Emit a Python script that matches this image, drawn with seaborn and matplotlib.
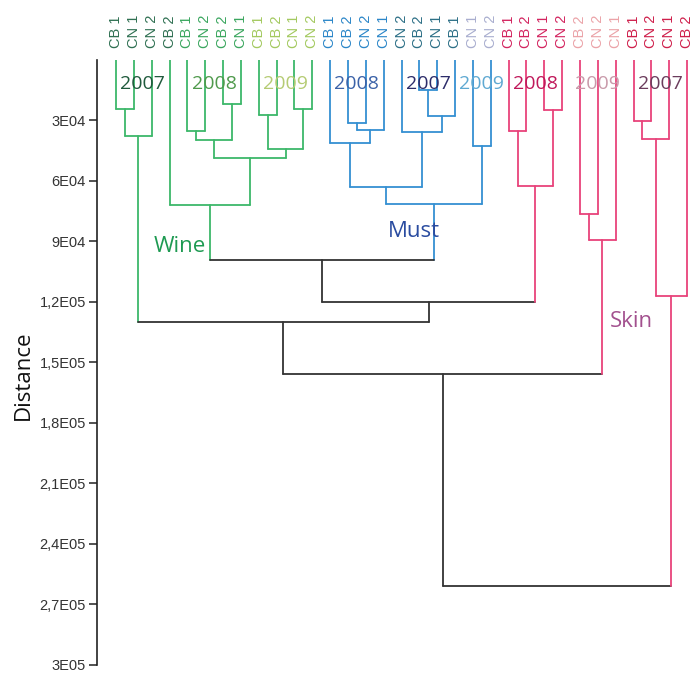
import numpy as np
import pandas as pd
import matplotlib
matplotlib.use("Agg")
import matplotlib.pyplot as plt
import seaborn as sns

# leaves, left to right
leaf_labels = ["CB 1", "CN 1", "CN 2", "CB 2",
               "CB 1", "CN 2", "CB 2", "CN 1",
               "CB 1", "CB 2", "CN 1", "CN 2",
               "CB 1", "CB 2", "CN 2", "CN 1",
               "CN 2", "CB 2", "CN 1", "CB 1",
               "CN 1", "CN 2",
               "CB 1", "CB 2", "CN 1", "CN 2",
               "CB 2", "CN 2", "CN 1",
               "CB 1", "CN 2", "CN 1", "CB 2"]
leaf_tissue = ["Wine"] * 12 + ["Must"] * 10 + ["Skin"] * 11
leaf_year = (["2007"] * 4 + ["2008"] * 4 + ["2009"] * 4
             + ["2008"] * 4 + ["2007"] * 4 + ["2009"] * 2
             + ["2008"] * 4 + ["2009"] * 3 + ["2007"] * 4)

# linkage: node ids 0..32 are leaves, 33.. are merges in this order
merge_left = [0, 33, 6, 4, 36, 10, 8, 39, 37, 3,
              13, 43, 12, 17, 46, 16, 45, 20, 49, 42,
              24, 22, 54, 52, 34, 26, 58, 57, 29, 61, 62, 60]
merge_right = [1, 2, 7, 5, 35, 11, 9, 38, 40, 41,
               14, 15, 44, 18, 19, 47, 48, 21, 50, 51,
               25, 23, 53, 55, 56, 27, 28, 59, 30, 31, 32, 63]
merge_height = [24200, 37800, 21700, 35400, 39500, 24200, 27100, 44100, 48800, 71900,
                31200, 34500, 41100, 14800, 27600, 35900, 63000, 42800, 71500, 99200,
                24700, 35000, 62500, 119900, 130000, 76500, 89200, 155800,
                30100, 39100, 116900, 261200]

ytick_values = [30000, 60000, 90000, 120000, 150000, 180000, 210000, 240000, 270000, 300000]
ytick_labels = ["3E04", "6E04", "9E04", "1,2E05", "1,5E05", "1,8E05",
                "2,1E05", "2,4E05", "2,7E05", "3E05"]

branch_colors = {"Wine": "#3db86a", "Must": "#3590d2", "Skin": "#e8437b", "mixed": "#333333"}
label_colors = {("Wine", "2007"): "#2f7052", ("Wine", "2008"): "#3aa65e", ("Wine", "2009"): "#a3c95f",
                ("Must", "2008"): "#2b86c8", ("Must", "2007"): "#2c6f86", ("Must", "2009"): "#a9aecf",
                ("Skin", "2008"): "#d3245f", ("Skin", "2009"): "#eba3a8", ("Skin", "2007"): "#cf1f4b"}
year_colors = {("Wine", "2007"): "#1f5a3c", ("Wine", "2008"): "#4f9a4c", ("Wine", "2009"): "#b5cb73",
               ("Must", "2008"): "#3b62a8", ("Must", "2007"): "#2c2c6a", ("Must", "2009"): "#5fa9d2",
               ("Skin", "2008"): "#c0185a", ("Skin", "2009"): "#c99aaa", ("Skin", "2007"): "#6b3c5c"}
tissue_text_colors = {"Wine": "#1e9a52", "Must": "#2a4ca0", "Skin": "#a2508e"}
# where the tissue names sit (leaf-index units, distance)
tissue_text_pos = {"Wine": (3.56, 92800), "Must": (16.7, 85200), "Skin": (28.9, 130000)}

sns.set_theme(style="white")
plt.rcParams["font.family"] = ["Liberation Sans", "DejaVu Sans"]

# node positions / colours like scipy's dendrogram
n = len(leaf_labels)
xpos = list(np.arange(n, dtype=float))
hpos = [0.0] * n
tissue = list(leaf_tissue)
for a, b, h in zip(merge_left, merge_right, merge_height):
    xpos.append((xpos[a] + xpos[b]) / 2)
    hpos.append(h)
    tissue.append(tissue[a] if tissue[a] == tissue[b] else "mixed")

rows = []
seg = 0
for k, (a, b, h) in enumerate(zip(merge_left, merge_right, merge_height)):
    node = n + k
    for (x0, y0, x1, y1, t) in [(xpos[a], hpos[a], xpos[a], h, tissue[a]),
                                 (xpos[a], h, xpos[b], h, tissue[node]),
                                 (xpos[b], hpos[b], xpos[b], h, tissue[b])]:
        rows.append({"x": x0, "d": y0, "seg": seg, "color": branch_colors[t]})
        rows.append({"x": x1, "d": y1, "seg": seg, "color": branch_colors[t]})
        seg += 1
seg_df = pd.DataFrame(rows)

fig = plt.figure(figsize=(6.96, 6.73), dpi=100)
ax = fig.add_axes([97 / 696, 1 - 664.5 / 673, 1 - 97 / 696, 604.5 / 673])

sns.lineplot(data=seg_df, x="x", y="d", units="seg", hue="color",
             palette={c: c for c in seg_df["color"].unique()},
             estimator=None, sort=False, lw=1.3, legend=False, ax=ax)

ax.set_xlim(-1.065, 32.5)
ax.set_ylim(300000, 0)

# leaf labels on top
ax.set_xticks(range(n))
ax.set_xticklabels(leaf_labels, rotation=90, fontsize=10.5)
ax.tick_params(axis="x", top=False, bottom=False, labeltop=True, labelbottom=False,
               length=0, pad=9)
for lab, t, y in zip(ax.get_xticklabels(), leaf_tissue, leaf_year):
    lab.set_color(label_colors[(t, y)])

ax.set_yticks(ytick_values)
ax.set_yticklabels(ytick_labels, fontsize=10.5, color="#333333")
ax.tick_params(axis="y", left=True, length=6, width=1.1, color="#222222", pad=2)

ax.set_xlabel("")
ax.set_ylabel("Distance", fontsize=16, family=["Open Sans", "DejaVu Sans"],
              color="#111111", va="center")
ax.yaxis.set_label_coords(-0.1235, 0.478)

sns.despine(ax=ax, top=True, right=True, bottom=True)
ax.spines["left"].set_color("#222222")
ax.spines["left"].set_linewidth(1.2)

# year names inside each sub-cluster
groups = pd.DataFrame({"x": np.arange(n), "tissue": leaf_tissue, "year": leaf_year})
for (t, y), g in groups.groupby(["tissue", "year"], sort=False):
    ax.text(g["x"].mean(), 12000, y, ha="center", va="center", fontsize=14,
            family=["Open Sans", "DejaVu Sans"], color=year_colors[(t, y)])

for t, (tx, ty) in tissue_text_pos.items():
    ax.text(tx, ty, t, ha="center", va="center", fontsize=16,
            family=["Open Sans", "DejaVu Sans"], color=tissue_text_colors[t])

fig.savefig("out.png", dpi=100)
